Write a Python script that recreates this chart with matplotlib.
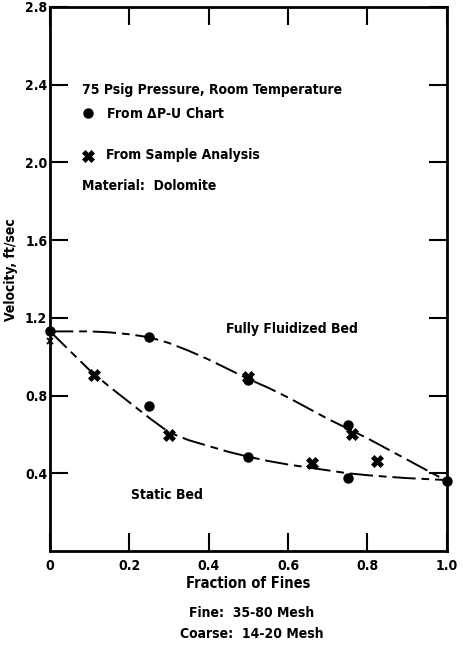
import matplotlib
matplotlib.use("Agg")
import matplotlib.pyplot as plt

# condensed bold type for the whole sheet
plt.rcParams['font.family'] = ['DejaVu Sans']
plt.rcParams['font.stretch'] = 'condensed'
plt.rcParams['font.weight'] = 'bold'
plt.rcParams['axes.labelweight'] = 'bold'

dpu_x = [0.0, 0.25, 0.50, 0.75, 1.0, 0.25, 0.50, 0.75]
dpu_y = [1.13, 1.10, 0.88, 0.65, 0.36, 0.745, 0.483, 0.376]

# points from sample analysis
samp_x = [0.11, 0.30, 0.50, 0.66, 0.76, 0.825]
samp_y = [0.905, 0.595, 0.895, 0.455, 0.60, 0.465]
samp0_x = [0.0]
samp0_y = [1.08]

# hand drawn curves
fluid_x = [0.0, 0.05, 0.10, 0.15, 0.20, 0.25, 0.30, 0.35, 0.40, 0.45, 0.50,
           0.55, 0.60, 0.65, 0.70, 0.75, 0.80, 0.85, 0.90, 0.95, 1.0]
fluid_y = [1.13, 1.13, 1.13, 1.125, 1.115, 1.10, 1.07, 1.03, 0.985, 0.935, 0.885,
           0.84, 0.79, 0.735, 0.68, 0.63, 0.58, 0.525, 0.47, 0.415, 0.36]
static_x = [0.0, 0.05, 0.10, 0.15, 0.20, 0.25, 0.30, 0.35, 0.40, 0.45, 0.50,
            0.55, 0.60, 0.65, 0.70, 0.75, 0.80, 0.85, 0.90, 0.95, 1.0]
static_y = [1.13, 1.03, 0.93, 0.845, 0.765, 0.685, 0.61, 0.57, 0.54, 0.51, 0.485,
            0.463, 0.445, 0.43, 0.415, 0.40, 0.39, 0.382, 0.375, 0.37, 0.365]

xticks = [0, 0.2, 0.4, 0.6, 0.8, 1.0]
xticklabels = ['0', '0.2', '0.4', '0.6', '0.8', '1.0']
yticks = [0.4, 0.8, 1.2, 1.6, 2.0, 2.4, 2.8]
yticklabels = ['0.4', '0.8', '1.2', '1.6', '2.0', '2.4', '2.8']

fig = plt.figure(figsize=(4.63, 6.47), dpi=100)
ax = fig.add_axes([0.108, 0.1484, 0.857, 0.841])

ax.plot(fluid_x, fluid_y, color='k', lw=1.4, ls=(0, (12, 3, 4, 3)))
ax.plot(static_x, static_y, color='k', lw=1.4, ls=(0, (12, 3, 4, 3)))

ax.plot(dpu_x, dpu_y, 'o', color='k', ms=6.5, clip_on=False)
ax.plot(samp_x, samp_y, 'X', color='k', ms=9, mew=0.5)
ax.plot(samp0_x, samp0_y, 'x', color='k', ms=5, mew=1.3, clip_on=False)

ax.set_xlim(0, 1.0)
ax.set_ylim(0, 2.8)
ax.set_xticks(xticks)
ax.set_xticklabels(xticklabels)
ax.set_yticks(yticks)
ax.set_yticklabels(yticklabels)
ax.tick_params(direction='in', length=13, width=1.5, labelsize=10,
               top=True, right=True, pad=6)
ax.tick_params(axis='y', pad=2)
for s in ax.spines.values():
    s.set_linewidth(2)

ax.set_xlabel('Fraction of Fines', fontsize=10.5, labelpad=2)
ax.set_ylabel('Velocity, ft/sec', fontsize=10)
ax.yaxis.set_label_coords(-0.08, 0.517)

# legend block written in by hand
ax.text(0.08, 2.37, '75 Psig Pressure, Room Temperature', fontsize=10, va='center')
ax.plot([0.095], [2.255], 'o', color='k', ms=6.5)
ax.text(0.14, 2.25, 'From $\\Delta$P-U Chart', fontsize=10, va='center')
ax.plot([0.095], [2.035], 'X', color='k', ms=9, mew=0.5)
ax.text(0.14, 2.04, 'From Sample Analysis', fontsize=10, va='center')
ax.text(0.08, 1.88, 'Material:  Dolomite', fontsize=10, va='center')

ax.text(0.61, 1.14, 'Fully Fluidized Bed', fontsize=10, ha='center', va='center')
ax.text(0.295, 0.29, 'Static Bed', fontsize=10, ha='center', va='center')

fig.text(0.543, 0.052, 'Fine:  35-80 Mesh', fontsize=10, ha='center', va='center')
fig.text(0.543, 0.020, 'Coarse:  14-20 Mesh', fontsize=10, ha='center', va='center')

fig.savefig('out.png', dpi=100)
